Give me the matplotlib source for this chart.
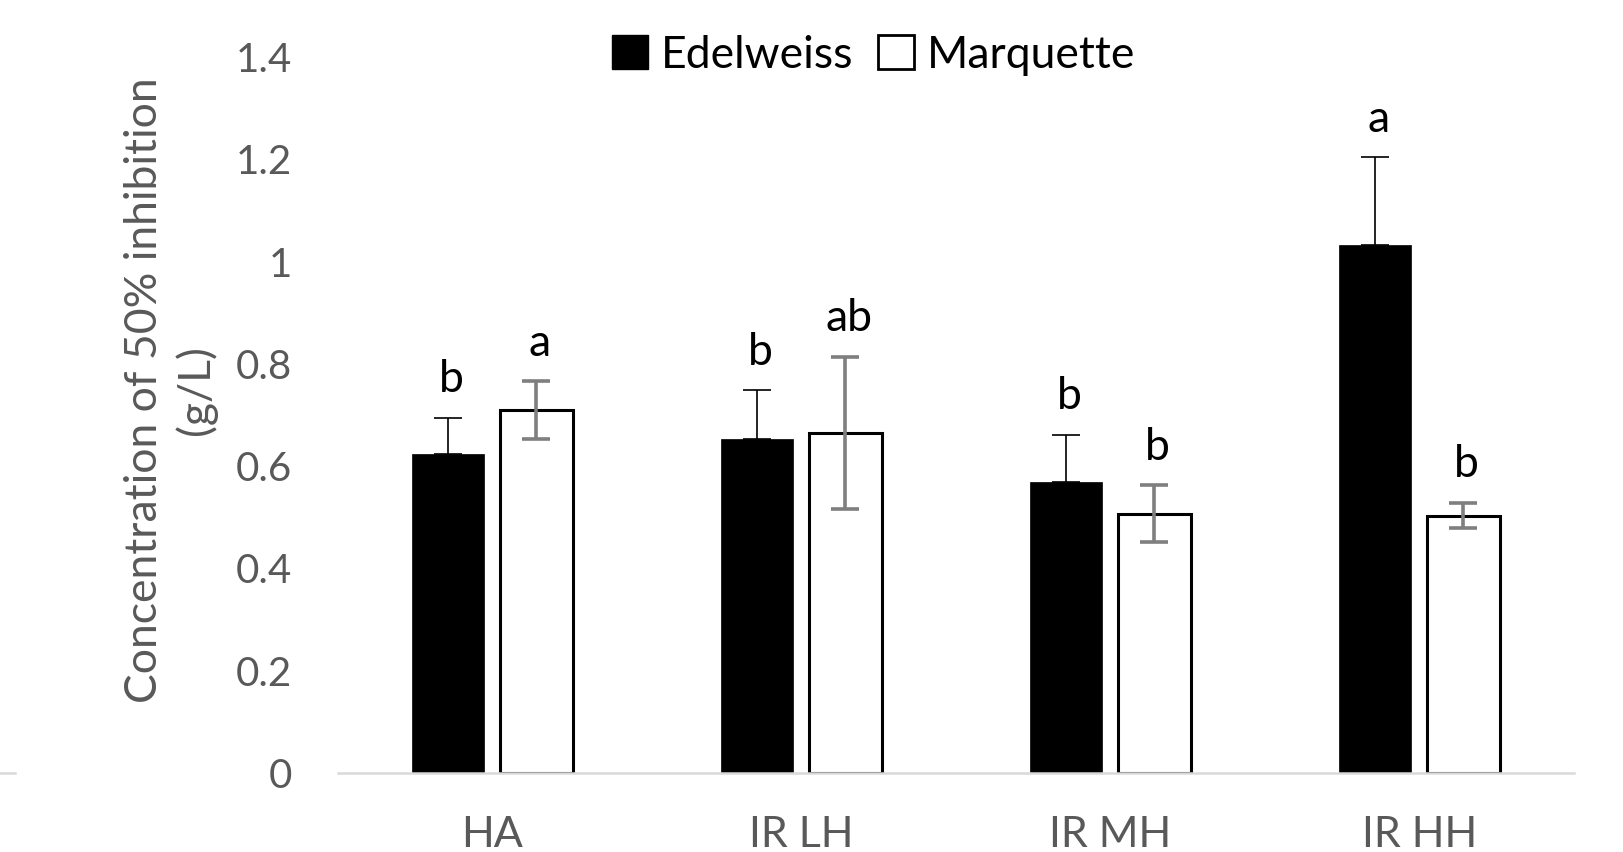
import matplotlib
matplotlib.use("Agg")
import matplotlib.pyplot as plt
from matplotlib.patches import Patch
from matplotlib.lines import Line2D
import numpy as np

plt.rcParams['font.family'] = ['Lato', 'DejaVu Sans']

categories = ["HA", "IR LH", "IR MH", "IR HH"]
edelweiss = [0.624, 0.652, 0.569, 1.033]
edelweiss_err = [0.070, 0.096, 0.092, 0.171]
marquette = [0.709, 0.665, 0.507, 0.503]
marquette_err = [0.057, 0.149, 0.055, 0.025]
letters_e = ["b", "b", "b", "a"]
letters_m = ["a", "ab", "b", "b"]

grey = "#595959"

fig = plt.figure(figsize=(16.24, 8.52), dpi=100)
ax = fig.add_axes([0.208, 0.093, 0.761, 0.840])

x = np.arange(len(categories))
off = 0.143
w = 0.235

ax.bar(x - off, edelweiss, w, color="black", edgecolor="black", linewidth=0.5, zorder=2)
ax.bar(x + off, marquette, w, color="white", edgecolor="black", linewidth=2.2, zorder=2)

ax.errorbar(x - off, edelweiss, yerr=[np.zeros(len(x)), edelweiss_err], fmt="none",
            ecolor="black", elinewidth=1.2, capsize=10, capthick=1.2, zorder=3)
ax.errorbar(x + off, marquette, yerr=marquette_err, fmt="none",
            ecolor="#7f7f7f", elinewidth=2.6, capsize=10, capthick=2.6, zorder=3)

for i in range(len(x)):
    ax.text(x[i] - off + 0.01, edelweiss[i] + edelweiss_err[i] + 0.05, letters_e[i],
            ha="center", va="baseline", fontsize=32, color="black")
    ax.text(x[i] + off + 0.01, marquette[i] + marquette_err[i] + 0.05, letters_m[i],
            ha="center", va="baseline", fontsize=32, color="black")

ax.set_xlim(-0.5, 3.5)
ax.set_ylim(0, 1.4)
ax.set_xticks(x)
ax.set_xticklabels(categories)
ax.set_yticks([0, 0.2, 0.4, 0.6, 0.8, 1.0, 1.2, 1.4])
ax.set_yticklabels(["0", "0.2", "0.4", "0.6", "0.8", "1", "1.2", "1.4"])
ax.tick_params(axis="both", length=0, labelcolor=grey)
ax.tick_params(axis="y", pad=33, labelsize=29)
ax.tick_params(axis="x", pad=31, labelsize=31)

for s in ["top", "right", "left"]:
    ax.spines[s].set_visible(False)
ax.spines["bottom"].set_color("#d9d9d9")
ax.spines["bottom"].set_linewidth(1.8)

ax.set_ylabel("Concentration of 50% inhibition\n(g/L)", fontsize=32, color=grey,
              linespacing=1.25)
ax.yaxis.set_label_coords(-0.098, 0.535)

handles = [Patch(facecolor="black", edgecolor="black"),
           Patch(facecolor="white", edgecolor="black", linewidth=2)]
fig.legend(handles, ["Edelweiss", "Marquette"], loc="center", bbox_to_anchor=(0.538, 0.935),
           ncol=2, frameon=False, fontsize=32, handlelength=0.8, handleheight=0.8,
           handletextpad=0.3, columnspacing=0.55)

# stray axis stub at the far left of the figure
fig.add_artist(Line2D([0, 0.009], [0.093, 0.093], color="#d9d9d9", linewidth=1.8))

fig.savefig("out.png", dpi=100)
